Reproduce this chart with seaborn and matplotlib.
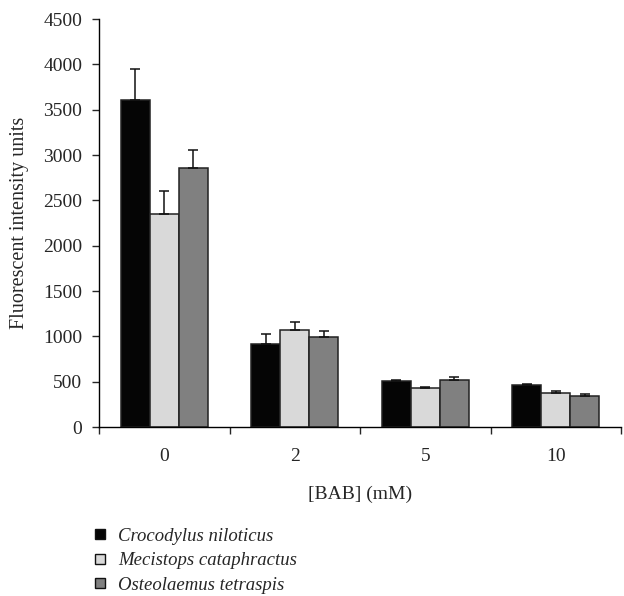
import pandas as pd
import matplotlib
matplotlib.use("Agg")
import matplotlib.pyplot as plt
from matplotlib.lines import Line2D
import seaborn as sns

# Values
concentrations = ["0", "2", "5", "10"]
species = ["Crocodylus niloticus", "Mecistops cataphractus", "Osteolaemus tetraspis"]
niloticus = [3610, 920, 505, 462]
cataphractus = [2350, 1070, 430, 375]
tetraspis = [2860, 990, 520, 338]
niloticus_err = [340, 110, 15, 8]
cataphractus_err = [255, 90, 12, 25]
tetraspis_err = [200, 70, 32, 28]
colors = ["#050505", "#d9d9d9", "#808080"]

df = pd.DataFrame({
    "BAB": concentrations * 3,
    "Species": [s for s in species for _ in concentrations],
    "Value": niloticus + cataphractus + tetraspis,
})
errors = [niloticus_err, cataphractus_err, tetraspis_err]

sns.set_style("ticks")
plt.rcParams["font.family"] = ["Liberation Serif", "DejaVu Serif"]

fig = plt.figure(figsize=(6.24, 5.96), dpi=100)
ax = fig.add_axes([99 / 624, 1 - 427 / 596, 522 / 624, 408 / 596])

sns.barplot(data=df, x="BAB", y="Value", hue="Species", order=concentrations,
            hue_order=species, palette=colors, width=0.67, errorbar=None,
            edgecolor="#222222", linewidth=1.1, legend=False, ax=ax)

# upper error bars only
for cont, err in zip(ax.containers, errors):
    for bar, e in zip(cont.patches, err):
        xc = bar.get_x() + bar.get_width() / 2
        ax.errorbar(xc, bar.get_height(), yerr=[[0], [e]], fmt="none",
                    ecolor="#111111", elinewidth=1.1, capsize=3.5, capthick=1.1)

ax.set_xlim(-0.5, 3.5)
ax.set_ylim(0, 4500)
ax.set_yticks(range(0, 4501, 500))
ax.set_xticks(range(len(concentrations)))
ax.set_xticks([i - 0.5 for i in range(len(concentrations) + 1)], minor=True)
ax.tick_params(axis="x", which="major", length=0, pad=15, labelsize=14)
ax.tick_params(axis="x", which="minor", length=5, width=1, direction="out")
ax.tick_params(axis="y", length=5, width=1, direction="out", pad=7, labelsize=14)
for s in ["top", "right"]:
    ax.spines[s].set_visible(False)
for s in ["left", "bottom"]:
    ax.spines[s].set_linewidth(1)
    ax.spines[s].set_color("black")

ax.set_xlabel("[BAB] (mM)", fontsize=14, labelpad=15)
ax.set_ylabel("Fluorescent intensity units", fontsize=14.5, labelpad=10)

handles = [Line2D([0], [0], marker="s", linestyle="none", markersize=6.5,
                  markerfacecolor=c, markeredgecolor="#111111", markeredgewidth=1)
           for c in colors]
fig.legend(handles, species, loc="upper left", bbox_to_anchor=(85 / 624, 1 - 520 / 596),
           frameon=False, handlelength=0.8, handletextpad=0.55, labelspacing=0.4,
           prop={"style": "italic", "size": 13.5}, borderaxespad=0)

fig.savefig("out.png", dpi=100)
